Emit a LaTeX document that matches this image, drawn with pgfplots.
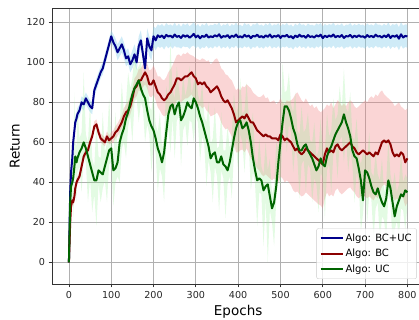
\documentclass[border=0pt]{standalone}
\usepackage{fontspec}
\setmainfont{DejaVu Sans}
\usepackage{pgfplots}
\pgfplotsset{compat=1.18}
\usepackage{pgfplotstable}
\usepgfplotslibrary{fillbetween}

\definecolor{lineblue}{HTML}{00008B}
\definecolor{linered}{HTML}{8B0000}
\definecolor{linegreen}{HTML}{006400}
\definecolor{bandblue}{HTML}{87CEEB}
\definecolor{bandred}{HTML}{F08080}
\definecolor{bandgreen}{HTML}{90EE90}
\definecolor{gridgray}{HTML}{B0B0B0}
\definecolor{spine}{HTML}{333333}

\pgfplotstableread{
x m l u
0 0 0 0
3 35 32 38
5 45 42 48
8 52 49 55
10 60 57 63
13 66 63 69
15 70 67 73
18 72 69 75
20 74 71 77
25 76 73 79
30 80 77 83
35 79 76 82
40 82 79 85
45 80 77 83
50 78 75 81
55 77 74 80
60 86 83 89
65 89 86 92
70 92 89 95
75 95 92 98
80 97 94 100
85 101 98 104
90 105 102 108
95 109 106 112
100 113 110 116
105 110 107 114
110 108 105 112
115 105 101 109
120 107 103 111
125 109 105 113
130 106 102 110
135 102 98 106
140 103 99 107
145 99 95 103
150 101 97 106
155 104 100 109
160 100 96 105
165 108 104 113
170 111 107 116
175 104 100 109
180 97 93 102
185 112 108 117
190 108 103 113
195 106 101 111
200 113 108 118
205 111 106 117
210 113.5 108 119
215 112.6 107.2 118.3
220 113.4 107.9 119.2
225 112.1 106.4 117.9
230 113.7 108.3 119.6
235 112.9 107.0 118.5
240 113.3 108.1 119.0
245 112.4 106.8 118.2
250 113.9 108.2 119.8
255 112.7 107.4 118.1
260 113.2 107.5 119.3
265 112.2 106.9 117.8
270 113.6 108.0 119.4
275 112.8 107.6 118.6
280 113.5 107.8 119.5
285 112.3 106.7 118.0
290 113.1 107.9 118.9
295 114.2 108.4 120.0
300 112.5 107.0 118.2
305 113.4 108.1 119.1
310 112.0 106.5 117.7
315 113.2 107.6 119.2
320 112.7 107.1 118.4
325 113.8 108.3 119.7
330 112.4 106.9 118.1
335 113.0 107.7 118.8
340 112.6 106.9 118.5
345 113.5 108.2 119.3
350 112.9 107.3 118.7
355 114.0 108.5 119.9
360 112.3 106.8 118.0
365 113.1 107.8 119.0
370 112.8 107.1 118.6
375 113.6 108.2 119.5
380 112.2 106.6 117.9
385 113.3 107.9 119.1
390 112.7 107.2 118.4
395 113.9 108.4 119.8
400 112.5 106.9 118.3
405 113.0 107.6 118.8
410 112.4 107.0 118.0
415 113.7 108.1 119.6
420 112.8 107.3 118.7
425 113.4 108.0 119.2
430 112.1 106.5 117.8
435 113.2 107.8 119.1
440 112.9 107.2 118.8
445 113.8 108.3 119.7
450 112.6 107.0 118.4
455 113.1 107.7 118.9
460 112.3 106.8 118.1
465 113.5 108.1 119.4
470 112.7 107.3 118.5
475 113.9 108.4 119.8
480 112.4 106.9 118.2
485 113.2 107.8 119.0
490 112.8 107.1 118.7
495 113.6 108.2 119.5
500 112.2 106.7 117.9
505 113.3 107.9 119.2
510 112.9 107.4 118.6
515 113.7 108.1 119.6
520 112.5 107.0 118.3
525 113.1 107.6 118.9
530 112.0 106.4 117.8
535 113.4 108.0 119.3
540 112.6 107.1 118.4
545 113.8 108.3 119.7
550 112.8 107.2 118.7
555 113.2 107.8 119.0
560 112.3 106.8 118.1
565 113.6 108.2 119.4
570 112.7 107.1 118.6
575 113.0 107.7 118.8
580 112.4 106.9 118.2
585 113.5 108.0 119.4
590 112.9 107.3 118.8
595 113.8 108.4 119.6
600 112.1 106.6 117.9
605 113.3 107.8 119.2
610 112.6 107.2 118.4
615 113.4 108.0 119.1
620 112.8 107.1 118.7
625 113.9 108.5 119.8
630 112.5 106.9 118.3
635 113.2 107.7 119.0
640 112.7 107.3 118.5
645 113.6 108.1 119.5
650 112.2 106.7 118.0
655 113.1 107.6 118.9
660 112.9 107.4 118.7
665 113.7 108.2 119.6
670 112.4 106.8 118.2
675 113.3 107.9 119.1
680 112.6 107.0 118.5
685 113.5 108.1 119.3
690 112.8 107.3 118.6
695 113.0 107.5 118.9
700 112.3 106.8 118.1
705 113.6 108.2 119.5
710 112.7 107.1 118.5
715 113.2 107.8 119.0
720 112.5 107.0 118.3
725 113.8 108.3 119.7
730 112.9 107.4 118.8
735 113.1 107.6 118.9
740 112.4 106.9 118.2
745 113.4 108.0 119.2
750 112.6 107.1 118.4
755 113.9 108.4 119.9
760 112.2 106.6 118.0
765 113.3 107.9 119.1
770 112.8 107.2 118.7
775 113.5 108.1 119.4
780 111.8 106.0 117.6
785 114.0 108.5 120.1
790 112.4 106.8 118.3
795 113.2 107.7 119.0
800 112.9 107.3 118.8
}\tblBlue

\pgfplotstableread{
x m l u
0 0 0 0
3 20 18 22
5 28 26 30
8 31 29 33
10 30 28 32
13 33 31 35
15 37 35 39
18 40 38 42
20 41 39 43
25 43 41 45
30 48 46 50
35 53 51 55
40 55 53 57
45 56 54 58
50 60 58 62
55 63 61 65
60 68 66 70.5
65 69 67 71.5
70 65 63 67.5
75 62 60 64.5
80 61 59 63.5
85 60 58 62.5
90 63 61 65.5
95 61 59 63.5
100 62 59.5 65
105 63 60 66
110 65 62 68
115 66 63 69.5
120 68 65 71.5
125 70 67 73.5
130 73 69.5 77
135 75 71.5 79
140 76 72 80.5
145 78 74 83
150 82 77.5 87
155 87 82 92
160 88 83 93.5
165 91 86 96.5
170 91 85.5 97
175 93 87.5 99
180 95 89 101
185 93 87 99.5
190 89 83 96
195 89 82.5 96.5
200 91 84 98.5
205 88 81 96
210 85 77.5 93
215 84 76 93
220 82 74 91.5
225 81 73 91
230 82 73.5 92.5
235 84 75 95
240 85 75.5 96.5
245 87 77 98.5
250 89 78.5 101
255 92 81 103.5
260 92 81 104
265 91 80 103
270 92 81 104.5
275 93 82 104
280 93 82 105
285 94 83 104
290 95 84 103.5
295 93 82 103
300 92 80.5 102
305 89 78 101.5
310 90 78.5 101
315 89 77 102
320 90 78 101.5
325 88 76 100.5
330 87 75 101
335 85 73 99
340 86 73.5 100
345 87 74 101.5
350 88 75 102
355 86 73 100
360 83 70 97
365 81 68 96
370 80 66.5 94
375 81 67 93.5
380 79 65 92
385 77 63 91
390 74 59 88.5
395 70 55 86
400 71 55 87
405 72 56 86
410 73 56.5 88
415 72 55 87.5
420 74 57 89
425 72 54.5 88
430 70 52 87
435 70 51 85
440 68 49 84
445 66 47 83
450 65 46 82.5
455 64 44 83
460 63 43 84
465 64 44 82
470 63 43 82.5
475 63 42 80
480 62 41 80.5
485 62 42 81
490 62 41 79
495 61 40 80
500 64 43 82
505 63 42 80
510 61 40 79
515 62 41 81
520 61 40 80.5
525 60 38.5 81
530 58 36 82
535 56 35 84
540 57 35.5 85
545 55 34 83
550 54 33 81
555 55 33.5 80
560 57 35 82
565 56 34 80
570 55 33 78
575 54 32 79
580 53 31 77
585 52 30 78
590 51 29 76
595 50 28.5 75
600 49 27 76
605 54 32 77
610 57 35 79
615 55 33 78
620 56 34 80
625 55 33 77
630 58 36 79
635 59 37 81
640 57 35 80
645 56 34 78
650 57 35 79.5
655 58 36 78
660 59 37 80
665 60 37.5 81
670 58 36 80
675 57 35 78
680 55 33 77
685 54 32 78
690 55 33 79
695 56 34 80
700 55 33 81
705 54 32 80
710 55 33 82
715 54 32 83
720 53 31 82
725 55 33 84
730 54 32 83
735 57 35 85
740 60 38 86
745 61 39 84
750 60 38 83
755 61 39 82
760 59 37 81
765 55 33 80
770 53 31 78
775 54 32 79
780 53 31 80
785 55 33 78
790 54 32 77
795 50 28 76
800 52 30 77
}\tblRed

\pgfplotstableread{
x m l u
0 0 0 0
3 30 22 38
5 38 30 60
8 40 33 47
10 42 22 50
13 48 41 85
15 53 46 60
18 50 30 58
20 52 45 78
25 55 48 62
30 57 35 65
35 60 53 95
40 57 50 64
45 53 30 60
50 49 42 80
55 45 25 52
60 41 34 48
65 41 18 70
70 46 39 53
75 45 30 52
80 44 37 75
85 48 41 55
90 52 30 60
95 56 49 82
100 57 50 64
105 46 28 53
110 47 40 75
115 50 43 57
120 60 40 68
125 64 57 90
130 67 60 74
135 72 52 80
140 75 68 95
145 80 73 87
150 84 60 92
155 87 80 105
160 89 82 96
165 91 70 98
170 87 80 100
175 84 77 91
180 82 60 90
185 76 69 95
190 71 64 78
195 68 45 76
200 66 59 85
205 62 55 69
210 57 35 65
215 54 47 75
220 50 43 57
225 55 30 63
230 65 58 88
235 74 67 81
240 78 55 110
245 79 72 86
250 74 52 82
255 78 71 98
260 80 73 87
265 71 48 78
270 73 66 95
275 76 69 83
280 80 58 88
285 78 71 98
290 77 70 84
295 82 60 90
300 80 73 96
305 77 70 84
310 73 50 80
315 70 63 90
320 66 59 73
325 62 38 70
330 58 51 80
335 52 45 59
340 54 30 62
345 55 48 78
350 50 43 57
355 50 25 58
360 53 46 75
365 49 42 56
370 48 22 56
375 46 39 68
380 50 43 57
385 56 32 64
390 62 55 85
395 67 60 74
400 70 45 78
405 71 64 92
410 67 60 74
415 68 45 76
420 70 63 90
425 66 59 73
430 60 36 68
435 52 45 75
440 46 39 53
445 41 18 48
450 42 35 62
455 41 34 48
460 36 8 44
465 38 31 60
470 39 0 46
475 33 26 52
480 27 20 34
485 30 8 38
490 38 31 60
495 50 43 57
500 60 38 68
505 70 63 100
510 78 71 85
515 78 55 86
520 76 69 95
525 72 65 79
530 67 45 75
535 64 57 85
540 59 52 66
545 56 32 64
550 56 49 78
555 58 51 65
560 59 35 67
565 56 49 75
570 54 47 61
575 52 30 60
580 49 42 70
585 46 39 53
590 48 25 56
595 52 45 72
600 49 42 56
605 48 22 56
610 53 46 75
615 56 49 63
620 58 35 66
625 61 54 82
630 64 57 71
635 66 42 74
640 68 61 88
645 70 63 77
650 74 50 97
655 70 63 77
660 67 45 75
665 63 56 85
670 56 49 63
675 53 30 61
680 52 45 72
685 47 40 54
690 41 15 49
695 31 24 55
700 46 39 53
705 45 20 53
710 42 35 65
715 38 31 45
720 35 12 43
725 34 27 55
730 37 30 44
735 33 10 41
740 30 23 52
745 28 21 35
750 32 10 40
755 41 34 62
760 37 30 44
765 30 10 38
770 23 16 45
775 28 21 35
780 31 12 39
785 34 27 55
790 33 26 40
795 36 16 44
800 35 28 42
}\tblGreen

\begin{document}
\begin{tikzpicture}
\begin{axis}[
  scale only axis, width=372.3pt, height=275.7pt,
  xmin=-40, xmax=840, ymin=-10.8, ymax=127,
  xtick={0,100,...,800}, ytick={0,20,...,120},
  tick align=outside, tick pos=left,
  major tick length=3.5pt,
  every tick/.style={spine, line width=0.8pt},
  grid=major, grid style={gridgray, line width=0.8pt},
  axis line style={spine, line width=0.8pt},
  /pgf/number format/assume math mode=true,
  tick label style={font=\fontsize{9.6}{11}\selectfont, color=black!85},
  xlabel={Epochs}, ylabel={Return},
  label style={font=\fontsize{13.5}{16}\selectfont},
  no markers,
  legend style={at={(1,0)}, anchor=south east, xshift=-7.5pt, yshift=5pt,
    font=\fontsize{10}{12}\selectfont, draw=black!20, rounded corners=2pt,
    fill=white, fill opacity=0.8, text opacity=1, inner xsep=3pt, inner ysep=3pt,
    row sep=2.5pt, cells={anchor=west}},
  legend image code/.code={\draw[#1, line width=2pt] (0pt,0pt) -- (22pt,0pt);},
]
\addplot[draw=none, name path=bU, forget plot] table[x=x, y=u]{\tblBlue};
\addplot[draw=none, name path=bL, forget plot] table[x=x, y=l]{\tblBlue};
\addplot[bandblue, fill opacity=0.4, draw=none, forget plot] fill between[of=bU and bL];
\addplot[draw=none, name path=rU, forget plot] table[x=x, y=u]{\tblRed};
\addplot[draw=none, name path=rL, forget plot] table[x=x, y=l]{\tblRed};
\addplot[bandred, fill opacity=0.33, draw=none, forget plot] fill between[of=rU and rL];
\addplot[draw=none, name path=gU, forget plot] table[x=x, y=u]{\tblGreen};
\addplot[draw=none, name path=gL, forget plot] table[x=x, y=l]{\tblGreen};
\addplot[bandgreen, fill opacity=0.25, draw=none, forget plot] fill between[of=gU and gL];

\addplot[lineblue, line width=2pt, line join=round] table[x=x, y=m]{\tblBlue};
\addlegendentry{Algo: BC+UC}
\addplot[linered, line width=2pt, line join=round] table[x=x, y=m]{\tblRed};
\addlegendentry{Algo: BC}
\addplot[linegreen, line width=2pt, line join=round] table[x=x, y=m]{\tblGreen};
\addlegendentry{Algo: UC}
\end{axis}
\pgfresetboundingbox
\path[use as bounding box] ([shift={(-52pt,-36pt)}]current axis.south west) rectangle ([shift={(367pt,284pt)}]current axis.south west);
\end{tikzpicture}
\end{document}
